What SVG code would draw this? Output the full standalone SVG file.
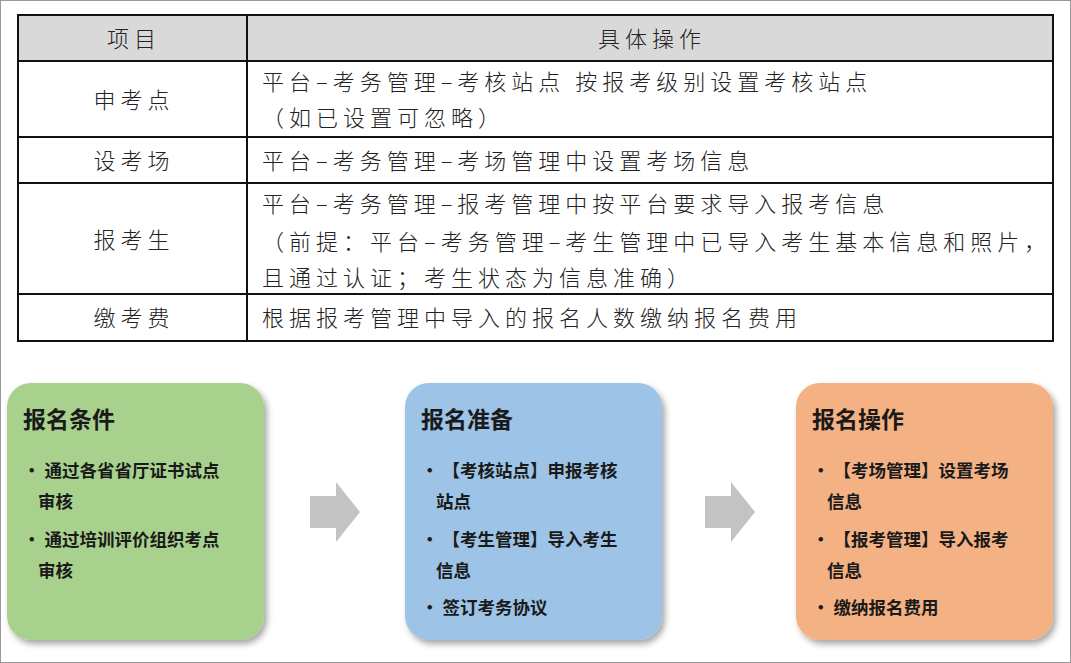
<svg xmlns="http://www.w3.org/2000/svg" width="1071" height="663" viewBox="0 0 1071 663">
<defs>
<style>
.t{font-family:"Noto Sans CJK SC",sans-serif;font-size:22px;font-weight:300;fill:#222;letter-spacing:5px}
.c{text-anchor:middle}
.h{font-family:"Noto Sans CJK SC",sans-serif;font-size:23px;font-weight:700;fill:#1a1a1a}
.b{font-family:"Noto Sans CJK SC",sans-serif;font-size:17.5px;font-weight:700;fill:#1a1a1a}
.ln{stroke:#111;stroke-width:2;fill:none}
</style>
<filter id="sh" x="-10%" y="-10%" width="125%" height="125%"><feDropShadow dx="3" dy="4" stdDeviation="3" flood-color="#000" flood-opacity="0.35"/></filter>
<path id="ar" d="M0 14 H26 V0 L50 30 L26 60 V46 H0 Z" fill="#c3c3c3"/>
</defs>
<rect x="0.5" y="0.5" width="1070" height="662" fill="#fff" stroke="#999"/>
<g id="table">
<rect x="18" y="15" width="1035" height="46" fill="#d9d9d9"/>
<rect x="18" y="15" width="1035" height="326" class="ln"/>
<path class="ln" d="M247 15V341M18 61H1053M18 137H1053M18 183H1053M18 294H1053"/>
<text class="t c" x="134" y="47">项目</text>
<text class="t c" x="652" y="47">具体操作</text>
<text class="t c" x="134" y="108">申考点</text>
<text class="t" x="262" y="90">平台–考务管理–考核站点 按报考级别设置考核站点</text>
<text class="t" x="262" y="126">（如已设置可忽略）</text>
<text class="t c" x="134" y="169">设考场</text>
<text class="t" x="262" y="169">平台–考务管理–考场管理中设置考场信息</text>
<text class="t c" x="134" y="248">报考生</text>
<text class="t" x="262" y="212">平台–考务管理–报考管理中按平台要求导入报考信息</text>
<text class="t" x="262" y="250">（前提：平台–考务管理–考生管理中已导入考生基本信息和照片，</text>
<text class="t" x="262" y="286">且通过认证；考生状态为信息准确）</text>
<text class="t c" x="134" y="326">缴考费</text>
<text class="t" x="262" y="326">根据报考管理中导入的报名人数缴纳报名费用</text>
</g>
<g id="connectors">
<use href="#ar" x="310" y="482"/>
<use href="#ar" x="705" y="482"/>
</g>
<g id="n1">
<rect x="7" y="383" width="257" height="257" rx="24" fill="#a9d18e" filter="url(#sh)"/>
<text class="h" x="23" y="428">报名条件</text>
<text class="b" x="23" y="477">• 通过各省省厅证书试点</text>
<text class="b" x="38" y="508">审核</text>
<text class="b" x="23" y="546">• 通过培训评价组织考点</text>
<text class="b" x="38" y="577">审核</text>
</g>
<g id="n2">
<rect x="405" y="383" width="257" height="257" rx="24" fill="#9dc3e6" filter="url(#sh)"/>
<text class="h" x="421" y="428">报名准备</text>
<text class="b" x="421" y="477">• 【考核站点】申报考核</text>
<text class="b" x="436" y="508">站点</text>
<text class="b" x="421" y="546">• 【考生管理】导入考生</text>
<text class="b" x="436" y="577">信息</text>
<text class="b" x="421" y="614">• 签订考务协议</text>
</g>
<g id="n3">
<rect x="796" y="383" width="257" height="257" rx="24" fill="#f4b183" filter="url(#sh)"/>
<text class="h" x="812" y="428">报名操作</text>
<text class="b" x="812" y="477">• 【考场管理】设置考场</text>
<text class="b" x="827" y="508">信息</text>
<text class="b" x="812" y="546">• 【报考管理】导入报考</text>
<text class="b" x="827" y="577">信息</text>
<text class="b" x="812" y="614">• 缴纳报名费用</text>
</g>
</svg>
